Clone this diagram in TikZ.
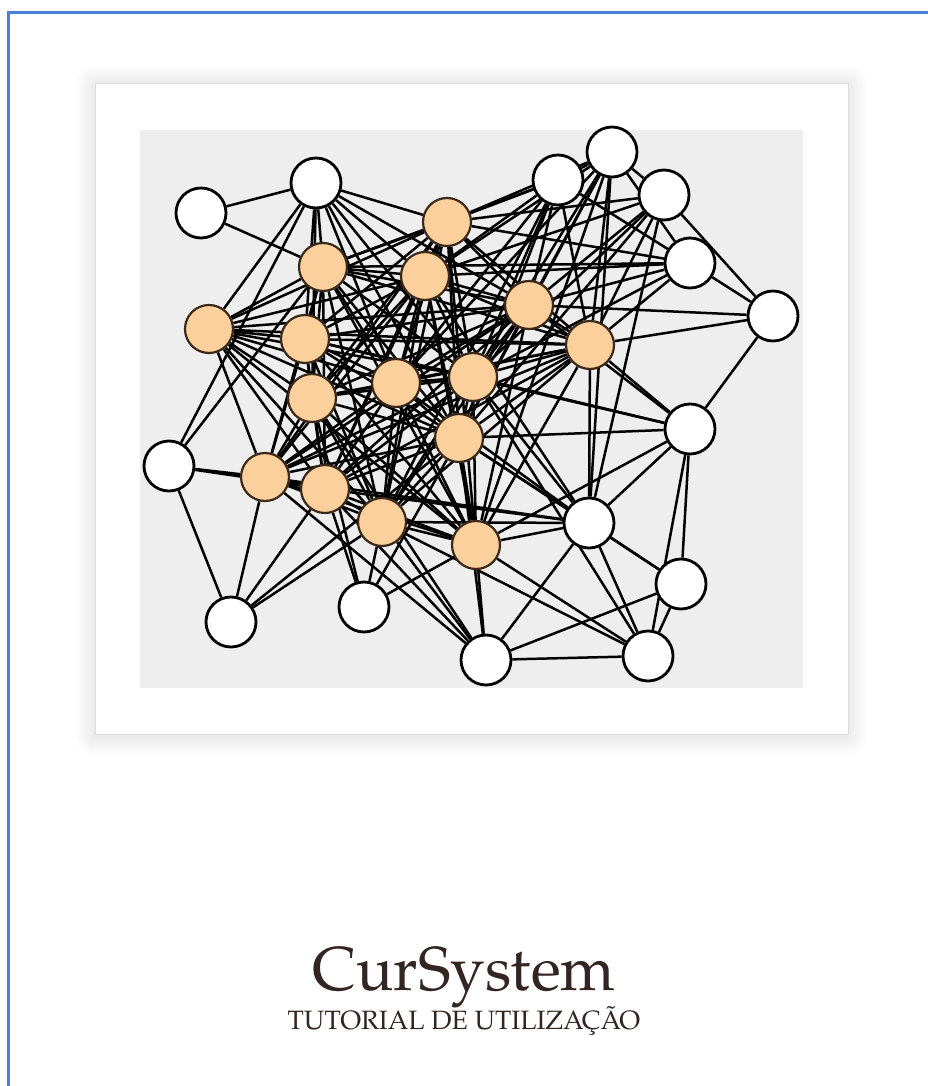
\documentclass[tikz,border=0pt]{standalone}
\usepackage{fontspec}
\newfontfamily\titlefont{TeX Gyre Pagella}
\definecolor{frameblue}{HTML}{4A7FD8}
\definecolor{panelgray}{HTML}{EEEEEE}
\definecolor{nodeorange}{HTML}{FCD09C}
\definecolor{orangeedge}{HTML}{3A2818}
\definecolor{titlecol}{HTML}{332622}
\pgfdeclarelayer{back}
\pgfdeclarelayer{edges}
\pgfsetlayers{back,edges,main}
\tikzset{
  wn/.style={circle,draw=black,line width=2.8pt,fill=white,minimum size=50pt,inner sep=0pt},
  on/.style={circle,draw=orangeedge,line width=2.2pt,fill=nodeorange,minimum size=48pt,inner sep=0pt},
  link/.style={draw=black,line width=2.5pt},
}
\begin{document}
\begin{tikzpicture}[x=1pt,y=-1pt]
\useasboundingbox (0,0) rectangle (928,1086);
% white nodes
\node[wn] (W1) at (201,213) {};
\node[wn] (W2) at (316,183) {};
\node[wn] (W3) at (558,180) {};
\node[wn] (W4) at (612,152) {};
\node[wn] (W5) at (664,195) {};
\node[wn] (W6) at (690,263) {};
\node[wn] (W7) at (773,316) {};
\node[wn] (W8) at (690,429) {};
\node[wn] (W9) at (169,466) {};
\node[wn] (W10) at (589,523) {};
\node[wn] (W11) at (681,584) {};
\node[wn] (W12) at (231,622) {};
\node[wn] (W13) at (364,607) {};
\node[wn] (W14) at (486,660) {};
\node[wn] (W15) at (648,656) {};
% orange nodes
\node[on] (O1) at (447,222) {};
\node[on] (O2) at (323,267) {};
\node[on] (O3) at (425,276) {};
\node[on] (O4) at (209,329) {};
\node[on] (O5) at (305,339) {};
\node[on] (O6) at (529,305) {};
\node[on] (O7) at (590,345) {};
\node[on] (O8) at (396,383) {};
\node[on] (O9) at (473,377) {};
\node[on] (O10) at (312,398) {};
\node[on] (O11) at (459,438) {};
\node[on] (O12) at (265,477) {};
\node[on] (O13) at (325,489) {};
\node[on] (O14) at (382,522) {};
\node[on] (O15) at (476,545) {};
% title
\node[anchor=base,text=titlecol,font=\titlefont\fontsize{62}{70}\selectfont,inner sep=0pt] (title) at (464,990) {CurSystem};
\node[anchor=base,text=titlecol,font=\titlefont\fontsize{26.5}{30}\selectfont,inner sep=0pt] (sub) at (464,1029) {TUTORIAL DE UTILIZAÇÃO};
\begin{pgfonlayer}{back}
  \fill[white] (0,0) rectangle (928,1086);
  \foreach \d in {20,19,...,1}{
    \fill[black,opacity=0.005,rounded corners=\d pt] (95-\d,83-\d+2) rectangle (848+\d,734+\d+2);
  }
  \fill[white] (95,83) rectangle (848,734);
  \draw[black!14,line width=0.8pt] (95,83) rectangle (848,734);
  \fill[panelgray] (140,130) rectangle (803,688);
  \draw[frameblue,line width=3pt] (8,1090) -- (8,12.5) -- (932,12.5);
\end{pgfonlayer}
\begin{pgfonlayer}{edges}
  % orange core: complete graph
  \foreach \i in {1,...,14}{
    \pgfmathtruncatemacro{\k}{\i+1}
    \foreach \j in {\k,...,15}{ \draw[link] (O\i) -- (O\j); }
  }
  % white node links
  \foreach \a/\b in {W1/W2,W1/O2,
    W2/O1,W2/O2,W2/O10,W2/O3,W2/O8,W2/O9,W2/O11,W2/O6,W2/O4,W2/W9,W2/O5,
    W3/W4,W3/O1,W3/O2,W3/O3,W3/O8,W3/O9,W3/O11,W3/O6,W3/O7,W3/O14,W3/W6,
    W4/W5,W4/O1,W4/O3,W4/O6,W4/O9,W4/O7,W4/O8,W4/O11,W4/W10,W4/W6,W4/O15,
    W5/W7,W5/O1,W5/O3,W5/O6,W5/O9,W5/O7,W5/W10,W5/O11,
    W6/W7,W6/O2,W6/O3,W6/O6,W6/O7,W6/O9,W6/O1,
    W7/O6,W7/O7,W7/W8,
    W8/O7,W8/O9,W8/O11,W8/W10,W8/W11,W8/W15,W8/O6,W8/O5,W8/O15,
    W9/O12,W9/O13,W9/O2,W9/W12,
    W10/W11,W10/W14,W10/W15,W10/O15,W10/O11,W10/O9,W10/O8,W10/O14,W10/O13,W10/O3,W10/O7,W10/O12,
    W11/W14,W11/W15,W11/O11,
    W12/O12,W12/O13,W12/O14,W12/O11,
    W13/O14,W13/O10,W13/O11,W13/O15,W13/O13,
    W14/W15,W14/O15,W14/O14,W14/O10,W14/O13,W14/O11,W14/O12,
    W15/O9,W15/O14,W15/O15}{
    \draw[link] (\a) -- (\b);
  }
\end{pgfonlayer}
\end{tikzpicture}
\end{document}
